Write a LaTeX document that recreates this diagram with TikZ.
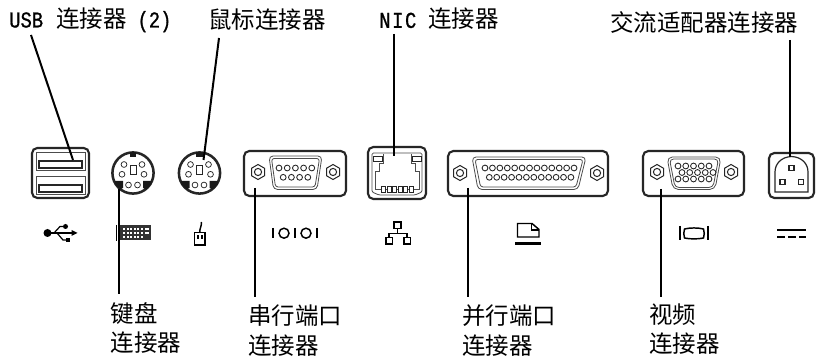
\documentclass[tikz,border=0pt]{standalone}
\usepackage{fontspec}
\newfontfamily\cjk{Noto Sans CJK SC}
\newfontfamily\latn[FakeStretch=0.83,FakeBold=0.8]{Liberation Mono}
\newcommand\mn[1]{{\fontsize{17}{21.75}\latn #1}}
\newlength\pxu \setlength\pxu{0.75pt}
\tikzset{
  lbl/.style={anchor=west,inner sep=0pt,align=left,text=black,font=\fontsize{17.6}{22}\cjk},
  leader/.style={draw=black,line width=1.5pt},
  housing/.style={draw=black!85,line width=1.6pt,rounded corners=4pt,inner sep=0pt},
  thin gray/.style={draw=black!70,line width=0.6pt},
  pinline/.style={draw=black!85,line width=0.65pt,fill=white},
  icon/.style={draw=black,line width=0.9pt},
  iconfill/.style={fill=black,draw=none}
}
\newcommand\hexnut[2]{%
  \draw[pinline,line width=0.75pt] (#1+0,#2-7.5) -- (#1+6.5,#2-3.75) -- (#1+6.5,#2+3.75) -- (#1+0,#2+7.5) -- (#1-6.5,#2+3.75) -- (#1-6.5,#2-3.75) -- cycle;
  \draw[pinline,line width=0.75pt] (#1,#2) circle (3.6);
}
\newcommand\psport[2]{%
  \draw[draw=black!85,line width=1.9pt,fill=white] (#1,#2) circle (20.6);
  \fill[black!90] (#1-3.2,#2-21) rectangle (#1+3.2,#2-15.5);
  \fill[black!90] (#1-18.5,#2+8) -- (#1-10,#2+8) -- (#1-10,#2+15) -- (#1-13,#2+16.5) -- (#1-18.5,#2+11) -- cycle;
  \fill[black!90] (#1+18.5,#2+8) -- (#1+10,#2+8) -- (#1+10,#2+15) -- (#1+13,#2+16.5) -- (#1+18.5,#2+11) -- cycle;
  \foreach \dx/\dy in {-9/-8.5,9/-8.5,-11/1.3,11/1.3,-4.5/12,4.5/12}
    \draw[pinline,line width=0.55pt] (#1+\dx,#2+\dy) circle (2.9);
  \draw[pinline,line width=0.75pt] (#1-3,#2-7) rectangle (#1+3,#2+2);
}
\begin{document}
\begin{tikzpicture}[x=0.75pt,y=-0.75pt]
\useasboundingbox (0,0) rectangle (816,359);
\fill[white] (0,0) rectangle (816,359);

% ---------- housings ----------
\node[housing,minimum width=57\pxu,minimum height=50\pxu] (usb) at (60.5,173) {};
\node[housing,minimum width=102\pxu,minimum height=45\pxu] (serial) at (295,173.5) {};
\node[housing,minimum width=58\pxu,minimum height=52\pxu] (nic) at (397,173) {};
\node[housing,minimum width=160\pxu,minimum height=45\pxu] (parallel) at (528,173.5) {};
\node[housing,minimum width=101\pxu,minimum height=45\pxu] (video) at (693.5,173.5) {};
\node[housing,minimum width=45\pxu,minimum height=45\pxu] (ac) at (791.5,175.5) {};

% USB slots
\foreach \yy in {152,176}{
  \draw[thin gray] (36,\yy) rectangle (85,\yy+18);
  \draw[draw=black!85,line width=0.8pt] (39,\yy+9) rectangle (82,\yy+16);
}
% PS/2
\psport{133}{173}
\psport{199.5}{173}

% Serial
\hexnut{258}{172}
\hexnut{333}{172}
\draw[thin gray,rounded corners=3pt] (269,156) -- (322,156) -- (317,189.5) -- (273.5,189.5) -- cycle;
\draw[thin gray,rounded corners=2pt] (271.5,158.5) -- (319.5,158.5) -- (315,187) -- (275.5,187) -- cycle;
\foreach \xx in {279,287.2,295.4,303.6,311.8} \draw[pinline] (\xx,168) circle (2.9);
\foreach \xx in {283.2,291.4,299.6,307.8} \draw[pinline] (\xx,177.3) circle (2.9);

% NIC
\draw[thin gray,rounded corners=1pt] (372,153) -- (422,153) -- (422,192) -- (415,195) -- (379,195) -- (372,192) -- cycle;
\draw[thin gray] (383,154) -- (383,163) -- (379,163) -- (379,171) -- (375,171) -- (375,189) -- (419,189) -- (419,171) -- (415,171) -- (415,163) -- (411,163) -- (411,154);
\draw[pinline] (373,156) rectangle (382,161);
\draw[pinline] (412,156) rectangle (421,161);
\foreach \xx in {383.5,389,394.5,400,405.5,411} \draw[pinline,line width=0.75pt] (\xx-2,187) rectangle (\xx+2,193);

% Parallel
\hexnut{460}{173}
\hexnut{597}{173}
\draw[thin gray,rounded corners=3pt] (472,157) -- (586,157) -- (578,189.5) -- (478,189.5) -- cycle;
\draw[thin gray,rounded corners=2pt] (475,159.5) -- (583,159.5) -- (576,187) -- (480.5,187) -- cycle;
\foreach \i in {0,...,12} \draw[pinline] (485+\i*7.42,168) circle (2.9);
\foreach \i in {0,...,11} \draw[pinline] (489.3+\i*7.42,177.3) circle (2.9);

% Video
\hexnut{657}{172}
\hexnut{731}{172}
\draw[thin gray,rounded corners=4pt] (667,157) -- (721,157) -- (715,189.5) -- (673,189.5) -- cycle;
\draw[thin gray,rounded corners=3pt] (669.5,159) -- (718.5,159) -- (713,187.5) -- (675,187.5) -- cycle;
\foreach \i in {0,...,4}{
  \draw[pinline] (678+\i*7.75,166) circle (2.9);
  \draw[pinline] (682+\i*7.75,172.5) circle (2.9);
  \draw[pinline] (678+\i*7.75,179) circle (2.9);
}

% AC
\draw[draw=black!85,line width=0.9pt] (775,192) -- (775,172) .. controls (775,164) and (781,157) .. (791.5,156.5) .. controls (802,157) and (808,164) .. (808,172) -- (808,192) -- cycle;
\foreach \xx/\yy in {791.5/168,782.5/182,801/182}
  \draw[pinline,line width=0.8pt] (\xx-2.5,\yy-2.5) rectangle (\xx+2.5,\yy+2.5);

% ---------- icons ----------
% USB
\fill (47.5,233) circle (4);
\draw[icon,line width=1.1pt] (47.5,233) -- (72,233);
\fill (71.5,230) -- (77.5,233) -- (71.5,236) -- cycle;
\draw[icon] (54,233) -- (60,226.5) -- (64,226.5);
\fill (65.5,226.5) circle (2.5);
\draw[icon] (57,233) -- (63,240) -- (66,240);
\fill (65.5,237.8) rectangle (70,242.2);
% keyboard
\draw[icon,line width=0.9pt] (116.5,225) -- (116.5,241.5);
\fill[black!80] (120,225) rectangle (151,240.5);
\foreach \yy in {228,232,236} \foreach \xx in {123,126.5,130,133.5,137,140.5}
  \fill[white] (\xx,\yy) rectangle (\xx+2.2,\yy+2.4);
\foreach \yy in {228,232} \fill[white] (145,\yy) rectangle (148.5,\yy+2.4);
% mouse
\draw[icon,line width=1.2pt] (194.5,232.5) rectangle (205,245);
\draw[icon,line width=1.1pt] (199.7,232.5) .. controls (199.7,228) and (201.5,227) .. (201.5,222);
\fill (197,235) rectangle (199,239);
\fill (200.5,235) rectangle (202.5,239);
% serial
\foreach \xx in {273,295,317} \draw[icon,line width=1.1pt] (\xx,228) -- (\xx,238.5);
\foreach \xx in {284,306} \draw[icon,line width=1.1pt] (\xx,233.2) circle (5);
% LAN
\draw[icon,line width=0.8pt] (394,222) rectangle (401,228.5);
\draw[icon,line width=0.8pt] (386,237.5) rectangle (392.5,244);
\draw[icon,line width=0.8pt] (404,237.5) rectangle (410.5,244);
\draw[icon,line width=0.8pt] (397.5,228.5) -- (397.5,233.5);
\draw[icon,line width=0.8pt] (389,237.5) -- (389,233.5) -- (407,233.5) -- (407,237.5);
% parallel
\draw[icon,line width=1.1pt] (517.5,237) -- (517.5,223.5) -- (532,223.5) -- (539,229.5) -- (539,237) -- cycle;
\draw[icon,line width=0.8pt] (531.5,223.5) -- (531.5,230) -- (539,230);
\fill (515,242.3) rectangle (541,245);
% video
\draw[icon,line width=1.1pt] (680,226) -- (680,240);
\draw[icon,line width=1.1pt] (708,226) -- (708,240);
\draw[icon,line width=1.1pt] (684.5,229) .. controls (690,227.6) and (698,227.6) .. (703.5,229) .. controls (704.5,232) and (704.5,235) .. (703.5,238) .. controls (698,239.2) and (690,239.2) .. (684.5,238) .. controls (683.5,235) and (683.5,232) .. (684.5,229) -- cycle;
% DC
\fill (777,229) rectangle (806,231);
\fill (777,236) rectangle (785,238);
\fill (788,236) rectangle (796,238);
\fill (798.5,236) rectangle (806,238);

% ---------- labels ----------
\node[lbl] (usbl) at (9,20) {\mn{USB}\hspace{10pt}连接器\hspace{8pt}\mn{(2)}};
\node[lbl] (msl) at (208,20) {鼠标连接器};
\node[lbl] (nicl) at (379,19) {\mn{N\kern1.2pt I\kern1.2pt C}\hspace{9pt}连接器};
\node[lbl] (acl) at (610,22.5) {交流适配器连接器};
\node[lbl] (kbl) at (110.5,328) {键盘\\连接器};
\node[lbl] (serl) at (248,330.5) {串行端口\\连接器};
\node[lbl] (parl) at (462,330.5) {并行端口\\连接器};
\node[lbl] (vidl) at (649,329) {视频\\连接器};

% ---------- connectors ----------
\coordinate (usbtop) at (31,35);
\coordinate (usbend) at (73,160);
\coordinate (mstop) at (219,38);
\coordinate (msend) at (203.5,160);
\coordinate (nictop) at (393.5,34);
\coordinate (nicend) at (393.5,156);
\coordinate (actop) at (790,40);
\coordinate (acend) at (790,157);
\coordinate (kbend) at (119,189);
\coordinate (kbfree) at (119,294);
\coordinate (serend) at (254.5,188);
\coordinate (serfree) at (254.5,297);
\coordinate (parend) at (467.7,188);
\coordinate (parfree) at (467.7,297);
\coordinate (vidend) at (660.7,189);
\coordinate (vidfree) at (660.7,297);
\draw[leader] (usbtop) -- (usbend);
\draw[leader] (mstop) -- (msend);
\draw[leader] (nictop) -- (nicend);
\draw[leader] (actop) -- (acend);
\draw[leader] (kbend) -- (kbfree);
\draw[leader] (serend) -- (serfree);
\draw[leader] (parend) -- (parfree);
\draw[leader] (vidend) -- (vidfree);
\end{tikzpicture}
\end{document}
